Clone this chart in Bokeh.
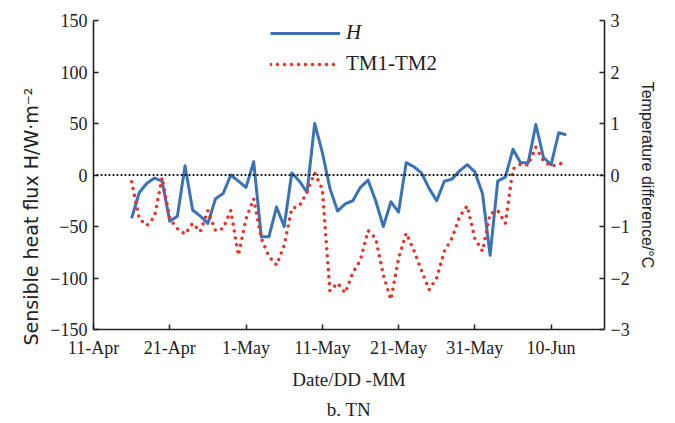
from bokeh.plotting import figure
from bokeh.models import (Range1d, LinearAxis, FixedTicker, Span, Legend,
                          LegendItem, Title)
from bokeh.embed import file_html
from bokeh.resources import INLINE

# Day number counted from 11 April (day 0)
day = list(range(5, 63))

# Sensible heat flux H (W m-2)
sensible_heat = [
    -42, -17, -8, -3, -6, -45, -40, 9, -34, -40,
    -47, -23, -18, 0, -6, -12, 13, -60, -60, -31,
    -50, 2, -6, -17, 50, 22, -13, -35, -28, -25,
    -12, -5, -25, -50, -26, -36, 12, 8, 2, -13,
    -25, -6, -4, 4, 10, 3, -18, -78, -6, -2,
    25, 12, 12, 49, 17, 10, 41, 39,
]

# Temperature difference TM1-TM2 (deg C)
temp_diff = [
    -0.13, -0.85, -0.98, -0.81, -0.05, -0.85, -1.04, -1.15, -0.94, -1.10,
    -0.69, -1.08, -1.04, -0.69, -1.56, -0.85, -0.46, -1.23, -1.58, -1.75,
    -1.37, -0.65, -0.60, -0.33, 0.04, -0.27, -2.25, -2.10, -2.29, -1.90,
    -1.65, -1.08, -1.23, -1.94, -2.42, -1.62, -1.13, -1.46, -1.85, -2.23,
    -2.00, -1.48, -1.23, -0.81, -0.60, -1.23, -1.48, -0.75, -0.69, -0.94,
    0.12, 0.21, 0.19, 0.54, 0.27, 0.17, 0.21, 0.25,
]

tick_days = [0, 10, 20, 30, 40, 50, 60]
tick_labels = ["11-Apr", "21-Apr", "1-May", "11-May", "21-May", "31-May", "10-Jun"]
flux_ticks = [-150, -100, -50, 0, 50, 100, 150]
temp_ticks = [-3, -2, -1, 0, 1, 2, 3]

SERIF = "Liberation Serif"
SANS = "Liberation Sans"
INK = "#222222"
BLUE = "#3a73b8"
RED = "#e3352b"


def signed(v):
    # typographic minus for negative tick values
    return ("\u2212" + str(abs(v))) if v < 0 else str(v)


p = figure(width=675, height=423, output_backend="svg", toolbar_location=None,
           x_range=Range1d(0, 67), y_range=Range1d(-150, 150),
           min_border_left=93, min_border_right=71, min_border_top=20,
           min_border_bottom=93, title="b. TN", title_location="below")
p.extra_y_ranges = {"temp": Range1d(-3, 3)}

p.outline_line_color = None
p.xgrid.visible = False
p.ygrid.visible = False
p.background_fill_color = "white"
p.border_fill_color = "white"

p.title.align = "center"
p.title.text_font = SERIF
p.title.text_font_size = "19px"
p.title.text_font_style = "normal"
p.title.text_color = INK
p.title.offset = 0
p.title.standoff = 8


def style_axis(ax, title_font, title_size):
    ax.axis_line_color = INK
    ax.axis_line_width = 1.6
    ax.major_tick_line_color = INK
    ax.major_tick_line_width = 1.5
    ax.major_tick_in = 5
    ax.major_tick_out = 0
    ax.minor_tick_line_color = None
    ax.major_label_text_font = SERIF
    ax.major_label_text_font_size = "18px"
    ax.major_label_text_color = INK
    ax.axis_label_text_font = title_font
    ax.axis_label_text_font_size = title_size
    ax.axis_label_text_font_style = "normal"
    ax.axis_label_text_color = INK


# bottom date axis
xa = p.xaxis[0]
xa.ticker = FixedTicker(ticks=tick_days)
xa.major_label_overrides = {d: lab for d, lab in zip(tick_days, tick_labels)}
xa.axis_label = "Date/DD -MM"
style_axis(xa, SERIF, "19px")
xa.major_label_standoff = 8
xa.axis_label_standoff = 8

# left flux axis; its title sits in the left panel, starting just below the frame
ya = p.yaxis[0]
ya.ticker = FixedTicker(ticks=flux_ticks)
ya.major_label_overrides = {v: signed(v) for v in flux_ticks}
style_axis(ya, SANS, "17px")
ya.major_label_standoff = 6

left_title = Title(text="Sensible heat flux H/W\u00b7m\u207b\u00b2", align="left",
                   offset=-16, standoff=12, text_font="DejaVu Sans",
                   text_font_size="19px", text_font_style="normal",
                   text_color=INK)
p.add_layout(left_title, "left")

# right temperature-difference axis
ra = LinearAxis(y_range_name="temp", ticker=FixedTicker(ticks=temp_ticks),
                axis_label="Temperature difference/\u00b0C")
ra.major_label_overrides = {v: signed(v) for v in temp_ticks}
style_axis(ra, SANS, "16px")
ra.major_label_standoff = 6
ra.axis_label_standoff = 6
p.add_layout(ra, "right")

# zero reference line
p.add_layout(Span(location=0, dimension="width", line_color="black",
                  line_width=2.2, line_dash="0 4", line_cap="round"))

h_line = p.line(day, sensible_heat, color=BLUE, line_width=3,
                line_join="round")
t_line = p.line(day, temp_diff, y_range_name="temp", color=RED,
                line_width=3.6, line_dash="0 7", line_cap="round")


def make_legend(item, loc, style):
    return Legend(items=[item], location=loc, glyph_width=70, glyph_height=22,
                  label_height=22, padding=0, margin=0, spacing=0,
                  label_standoff=6, border_line_color=None,
                  background_fill_alpha=0, label_text_font=SERIF,
                  label_text_font_size="21px", label_text_font_style=style,
                  label_text_color=INK)


p.add_layout(make_legend(LegendItem(label="H", renderers=[h_line]),
                         (177, 284), "italic"))
p.add_layout(make_legend(LegendItem(label="TM1-TM2", renderers=[t_line]),
                         (177, 253), "normal"))

open("out.html", "w").write(file_html(p, INLINE))
